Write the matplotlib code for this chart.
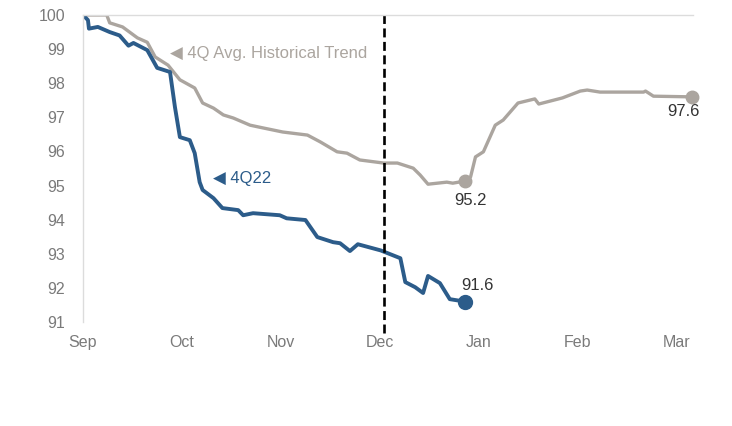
import numpy as np
import matplotlib
matplotlib.use("Agg")
import matplotlib.pyplot as plt

plt.rcParams['font.family'] = ['Liberation Sans', 'DejaVu Sans']

# x in months since Sep 1 (0 = Sep, 6 = Mar)
months = ["Sep", "Oct", "Nov", "Dec", "Jan", "Feb", "Mar"]

q422_x = [0.00, 0.05, 0.06, 0.15, 0.27, 0.37, 0.46, 0.51, 0.65, 0.75, 0.88, 0.93,
          0.98, 1.08, 1.13, 1.18, 1.21, 1.32, 1.41, 1.57, 1.62, 1.72, 1.99, 2.06,
          2.25, 2.37, 2.53, 2.60, 2.70, 2.78, 3.01, 3.21, 3.26, 3.36, 3.44, 3.49,
          3.61, 3.71, 3.86]
q422_y = [100, 99.85, 99.6, 99.65, 99.5, 99.4, 99.1, 99.18, 98.97, 98.45, 98.33, 97.3,
          96.42, 96.33, 95.95, 95.1, 94.87, 94.63, 94.34, 94.28, 94.13, 94.19, 94.13, 94.04,
          93.99, 93.49, 93.34, 93.31, 93.08, 93.28, 93.1, 92.87, 92.17, 92.02, 91.85, 92.35,
          92.14, 91.67, 91.6]

hist_x = [0.00, 0.24, 0.27, 0.40, 0.55, 0.65, 0.73, 0.86, 0.98, 1.13, 1.21, 1.32,
          1.42, 1.52, 1.69, 1.82, 2.02, 2.27, 2.40, 2.57, 2.67, 2.80, 3.04, 3.18,
          3.34, 3.41, 3.49, 3.68, 3.74, 3.86, 3.92, 3.97, 4.05, 4.17, 4.25, 4.40,
          4.57, 4.61, 4.85, 5.03, 5.10, 5.23, 5.67, 5.69, 5.77, 6.16]
hist_y = [100, 100, 99.77, 99.65, 99.33, 99.2, 98.77, 98.53, 98.1, 97.86, 97.42, 97.27,
          97.07, 96.98, 96.77, 96.69, 96.57, 96.48, 96.28, 95.99, 95.95, 95.75, 95.66, 95.66,
          95.51, 95.31, 95.04, 95.1, 95.07, 95.13, 95.25, 95.84, 95.99, 96.77, 96.92, 97.42,
          97.54, 97.39, 97.57, 97.77, 97.8, 97.74, 97.74, 97.77, 97.62, 97.6]

blue = "#2C5C8A"
gray = "#ABA59F"

fig = plt.figure(figsize=(7.32, 4.26), dpi=100)
ax = fig.add_axes([0.1134, 0.2441, 0.8333, 0.7207])

ax.plot(hist_x, hist_y, color=gray, lw=2.4, solid_joinstyle="round", solid_capstyle="round")
ax.plot(q422_x, q422_y, color=blue, lw=2.8, solid_joinstyle="round", solid_capstyle="round")
ax.plot(hist_x[29], hist_y[29], "o", color=gray, ms=9, clip_on=False)
ax.plot(hist_x[-1], hist_y[-1], "o", color=gray, ms=9, clip_on=False)
ax.plot(q422_x[-1], q422_y[-1], "o", color=blue, ms=10, clip_on=False)

# dashed marker at start of December
ax.plot([3.04, 3.04], [90.68, 100], color="black", lw=1.9, ls=(0, (3.4, 1.7)), clip_on=False)

ax.text(0.88, 98.86, "◀ 4Q Avg. Historical Trend", color=gray, fontsize=12,
        ha="left", va="center")
ax.text(1.31, 95.22, "◀ 4Q22", color=blue, fontsize=12, ha="left", va="center")
ax.text(3.99, 92.08, "91.6", color="#333333", fontsize=12, ha="center", va="center")
ax.text(3.92, 94.57, "95.2", color="#333333", fontsize=12, ha="center", va="center")
ax.text(6.07, 97.18, "97.6", color="#333333", fontsize=12, ha="center", va="center")

ax.set_xlim(0, 6.17)
ax.set_ylim(91, 100)
ax.set_xticks(range(len(months)))
ax.set_xticklabels(months)
ax.set_yticks(range(91, 101))
ax.tick_params(axis="both", length=0, labelsize=11.5, labelcolor="#7A7A7A")
ax.tick_params(axis="y", pad=13)
ax.tick_params(axis="x", pad=9)

for s in ["right", "bottom"]:
    ax.spines[s].set_visible(False)
ax.spines["left"].set_color("#DCDCDC")
ax.spines["top"].set_color("#DCDCDC")
ax.spines["left"].set_linewidth(1)
ax.spines["top"].set_linewidth(1)

fig.savefig("out.png", dpi=100)
